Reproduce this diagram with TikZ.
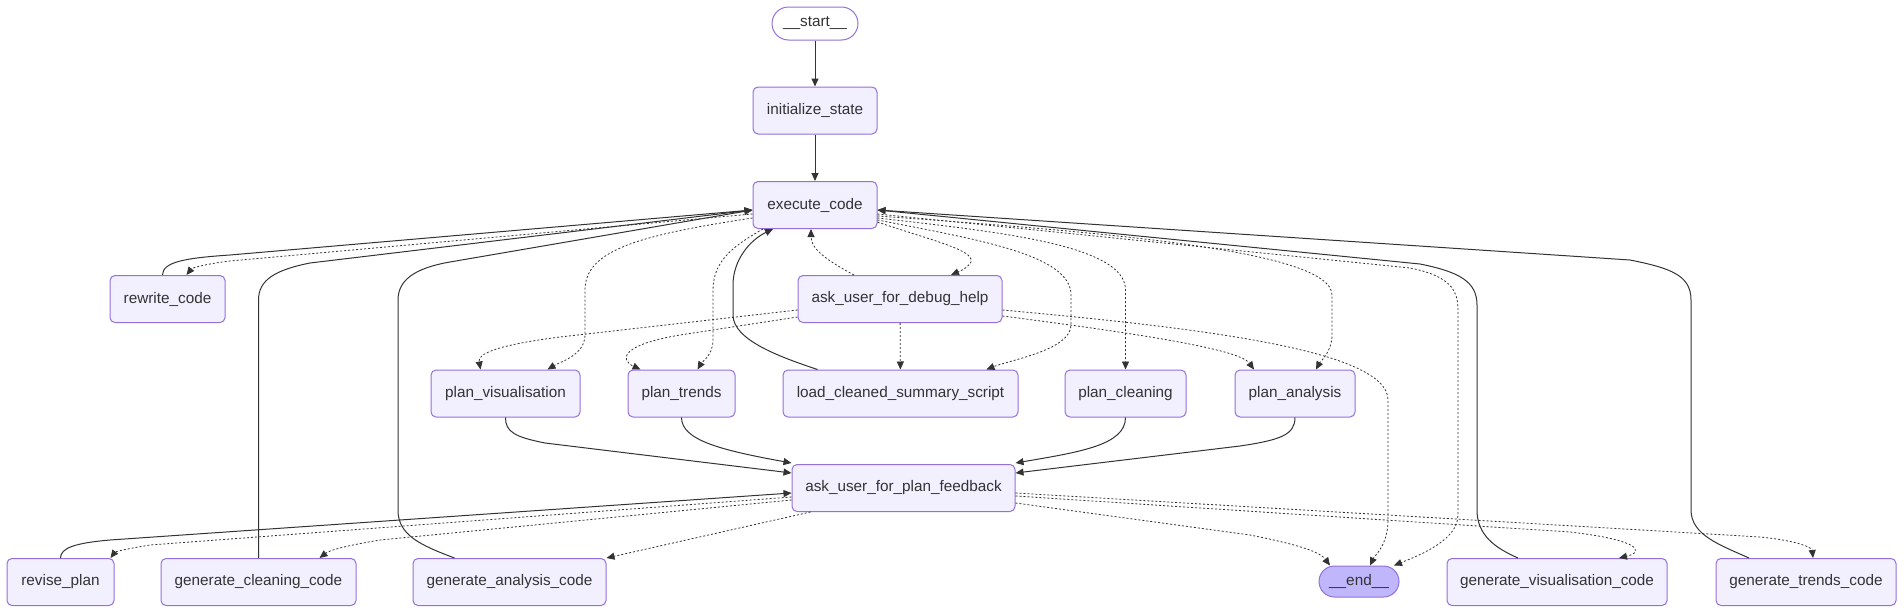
\documentclass[tikz,border=0pt]{standalone}
\usepackage{fontspec}
\setmainfont{Liberation Sans}
\usetikzlibrary{arrows.meta,shapes.misc}
\definecolor{nodefill}{HTML}{F2F0FF}
\definecolor{nodeline}{HTML}{9370DB}
\definecolor{endfill}{HTML}{BFB6FC}
\definecolor{edgegray}{HTML}{333333}

\begin{document}
\begin{tikzpicture}[
    x=1pt, y=-1pt,
    >={Triangle[length=8pt,width=7pt]},
    stepnode/.style={draw=nodeline, fill=nodefill, rounded corners=5pt, line width=1pt, inner sep=0pt, minimum height=47pt, text=edgegray, font=\fontsize{15.3}{18}\selectfont},
    termnode/.style={draw=nodeline, rounded rectangle, line width=1pt, inner sep=0pt, minimum height=33pt, text=edgegray, font=\fontsize{15.3}{18}\selectfont},
    flow/.style={->, draw=edgegray, line width=1pt},
    cond/.style={flow, line width=0.8pt, dash pattern=on 2pt off 2pt},
]
\useasboundingbox (0,0) rectangle (1904,613);

\node[termnode, fill=white, minimum width=86pt] (start) at (815,23.5) {\_\_start\_\_};
\node[stepnode, minimum width=124pt] (init) at (815,110.5) {initialize\_state};
\node[stepnode, minimum width=124pt] (exec) at (815,205) {execute\_code};

\node[stepnode, minimum width=115pt] (rewrite) at (167.5,299) {rewrite\_code};
\node[stepnode, minimum width=204pt] (debughelp) at (900,299) {ask\_user\_for\_debug\_help};

\node[stepnode, minimum width=149pt] (planvis) at (505.5,393.5) {plan\_visualisation};
\node[stepnode, minimum width=107pt] (plantrends) at (681.5,393.5) {plan\_trends};
\node[stepnode, minimum width=235pt] (loadscript) at (900.5,393.5) {load\_cleaned\_summary\_script};
\node[stepnode, minimum width=121pt] (plancleaning) at (1125.5,393.5) {plan\_cleaning};
\node[stepnode, minimum width=120pt] (plananalysis) at (1295,393.5) {plan\_analysis};

\node[stepnode, minimum width=223pt] (planfeedback) at (903.5,488) {ask\_user\_for\_plan\_feedback};

\node[stepnode, minimum width=107pt] (reviseplan) at (60.5,582) {revise\_plan};
\node[stepnode, minimum width=195pt] (gencleaning) at (258.5,582) {generate\_cleaning\_code};
\node[stepnode, minimum width=193pt] (genanalysis) at (509.5,582) {generate\_analysis\_code};
\node[termnode, fill=endfill, minimum width=80pt, minimum height=31pt] (endnode) at (1359,581.5) {\_\_end\_\_};
\node[stepnode, minimum width=220pt] (genvis) at (1557,582) {generate\_visualisation\_code};
\node[stepnode, minimum width=180pt] (gentrends) at (1806,582) {generate\_trends\_code};

% entry
\draw[flow] (start) -- (init);
\draw[flow] (init) -- (exec);

% back into execute_code, left side
\draw[flow] ([xshift=-5pt]rewrite.north) .. controls (162.5,262) and (185,258) .. (230,255) -- ([yshift=-5pt]exec.west);
\draw[cond] ([yshift=-9pt]exec.west) -- (230,261) .. controls (205,264) and (192,268) .. ([xshift=19pt]rewrite.north);
\draw[flow] (gencleaning.north) -- (258.5,300) .. controls (258.5,280) and (275,270) .. (310,263) -- ([yshift=-5pt]exec.west);
\draw[flow] ([xshift=-55pt]genanalysis.north) .. controls (420,545) and (398,535) .. (398,510) -- (398,300) .. controls (398,280) and (415,268) .. (450,262) -- ([yshift=-5pt]exec.west);
\draw[flow] ([xshift=-83pt]loadscript.north) .. controls (780,357) and (733,340) .. (733,315) -- (733,285) .. controls (733,260) and (750,240) .. ([xshift=-42pt]exec.south);

% execute_code out to the plan nodes
\draw[cond] ([yshift=-13pt]exec.west) .. controls (640,235) and (585,250) .. (585,290) -- (585,335) .. controls (585,355) and (560,362) .. ([xshift=42pt]planvis.north);
\draw[cond] ([xshift=-52pt]exec.south) .. controls (735,245) and (713,260) .. (713,290) -- (713,340) .. controls (713,355) and (702,362) .. ([xshift=16pt]plantrends.north);
\draw[cond] ([yshift=-17pt]exec.east) .. controls (930,240) and (975,250) .. (971,262) .. controls (968,268) and (958,272) .. ([xshift=51pt]debughelp.north);
\draw[cond] ([xshift=-46pt]debughelp.north) .. controls (830,262) and (811,250) .. ([xshift=-4pt]exec.south);
\draw[cond] ([yshift=-15pt]exec.east) .. controls (980,240) and (1071,255) .. (1071,295) -- (1071,325) .. controls (1071,350) and (1010,360) .. ([xshift=86pt]loadscript.north);
\draw[cond] ([yshift=-13pt]exec.east) .. controls (1000,232) and (1125.5,245) .. (1125.5,290) -- (plancleaning.north);
\draw[cond] ([yshift=-11pt]exec.east) .. controls (1100,232) and (1332,250) .. (1332,295) -- (1332,335) .. controls (1332,352) and (1320,362) .. ([xshift=21pt]plananalysis.north);
\draw[cond] ([yshift=-9pt]exec.east) -- (1410,268) .. controls (1450,276) and (1458,290) .. (1458,310) -- (1458,515) .. controls (1458,540) and (1420,555) .. ([xshift=35pt]endnode.north);

% back into execute_code, right side
\draw[flow] ([xshift=-39pt]genvis.north) .. controls (1495,548) and (1477,535) .. (1477,510) -- (1477,305) .. controls (1477,282) and (1460,272) .. (1420,264) -- ([yshift=-5pt]exec.east);
\draw[flow] ([xshift=-57pt]gentrends.north) .. controls (1720,545) and (1691,535) .. (1691,510) -- (1691,300) .. controls (1691,275) and (1670,268) .. (1630,260) -- ([yshift=-5pt]exec.east);

% out of ask_user_for_debug_help
\draw[cond] ([yshift=-11pt]debughelp.west) -- (560,337) .. controls (490,346) and (478,355) .. ([xshift=-25pt]planvis.north);
\draw[cond] ([yshift=-18pt]debughelp.west) -- (680,335) .. controls (620,345) and (620,360) .. ([xshift=-41pt]plantrends.north);
\draw[cond] (debughelp) -- (loadscript);
\draw[cond] ([yshift=-17pt]debughelp.east) .. controls (1150,335) and (1240,350) .. ([xshift=-41pt]plananalysis.north);
\draw[cond] ([yshift=-11pt]debughelp.east) .. controls (1200,328) and (1388,350) .. (1388,400) -- (1388,520) .. controls (1388,545) and (1375,555) .. ([xshift=11pt]endnode.north);

% into ask_user_for_plan_feedback
\draw[flow] (planvis.south) .. controls (505.5,432) and (515,437) .. (545,443) -- ([yshift=15pt]planfeedback.west);
\draw[flow] (plantrends.south) .. controls (681.5,440) and (720,450) .. ([yshift=25pt]planfeedback.west);
\draw[flow] (plancleaning.south) .. controls (1125.5,445) and (1080,452) .. ([yshift=25pt]planfeedback.east);
\draw[flow] (plananalysis.south) .. controls (1295,435) and (1280,440) .. (1240,446) -- ([yshift=15pt]planfeedback.east);
\draw[flow] (reviseplan.north) .. controls (60.5,548) and (75,543) .. (110,540) -- ([yshift=-5pt]planfeedback.west);

% out of ask_user_for_plan_feedback
\draw[cond] ([yshift=-9pt]planfeedback.west) -- (150,545) .. controls (125,549) and (115,552) .. ([xshift=50pt]reviseplan.north);
\draw[cond] ([yshift=-12pt]planfeedback.west) -- (380,540) .. controls (345,546) and (330,550) .. ([xshift=61pt]gencleaning.north);
\draw[cond] ([xshift=-93pt]planfeedback.south) -- ([xshift=97pt]genanalysis.north);
\draw[cond] ([yshift=-15pt]planfeedback.east) -- (1250,535) .. controls (1300,545) and (1320,552) .. ([xshift=-29pt]endnode.north);
\draw[cond] ([yshift=-8pt]planfeedback.east) -- (1570,532) .. controls (1640,540) and (1645,552) .. ([xshift=62pt]genvis.north);
\draw[cond] ([yshift=-5pt]planfeedback.east) -- (1760,537) .. controls (1800,541) and (1812,548) .. ([xshift=7pt]gentrends.north);

\end{tikzpicture}
\end{document}
